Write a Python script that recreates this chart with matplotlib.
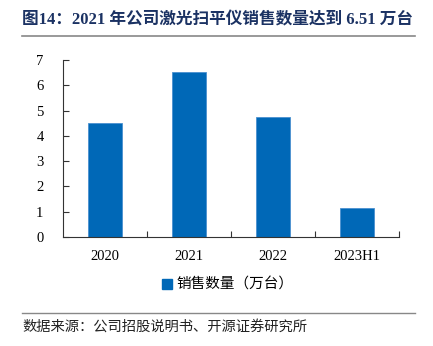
import matplotlib
matplotlib.use("Agg")
import matplotlib.pyplot as plt
from matplotlib.patches import Patch
from matplotlib.lines import Line2D

categories = ["2020", "2021", "2022", "2023H1"]
sales = [4.50, 6.51, 4.75, 1.16]
yticks = [0, 1, 2, 3, 4, 5, 6, 7]

title = "图14：2021 年公司激光扫平仪销售数量达到 6.51 万台"
legend_label = "销售数量（万台）"
source = "数据来源：公司招股说明书、开源证券研究所"

W, H = 433, 346
fig = plt.figure(figsize=(W / 100, H / 100), dpi=100)
ax = fig.add_axes([63 / W, 1 - 237 / H, (399 - 63) / W, (237 - 60) / H])

bar_color = "#0068B7"
x = list(range(len(categories)))
ax.bar(x, sales, width=0.41, color=bar_color, edgecolor="#4A90D0", linewidth=0.6)

ax.set_xlim(-0.5, len(categories) - 0.5)
ax.set_ylim(0, 7)
ax.set_yticks(yticks)
ax.set_yticklabels([str(v) for v in yticks], family="Liberation Serif", fontsize=10.5)
ax.set_xticks(x)
ax.set_xticklabels(categories, family="Liberation Serif", fontsize=10.5)
ax.set_xticks([i + 0.5 for i in x], minor=True)
ax.tick_params(axis="x", which="major", length=0, pad=9)
ax.tick_params(axis="x", which="minor", direction="in", length=4, width=0.8, color="#333333")
ax.tick_params(axis="y", direction="in", length=4, width=0.8, color="#333333", pad=14)
for s in ["top", "right"]:
    ax.spines[s].set_visible(False)
for s in ["left", "bottom"]:
    ax.spines[s].set_linewidth(0.8)
    ax.spines[s].set_color("#333333")

handle = Patch(facecolor=bar_color, edgecolor=bar_color)
fig.legend([handle], [legend_label], loc="center", bbox_to_anchor=(228 / W, 1 - 285 / H),
           frameon=False, prop={"family": "Noto Sans CJK SC", "size": 10.5},
           handlelength=0.65, handleheight=0.65, handletextpad=0.35)

fig.text(22 / W, 1 - 20 / H, title, ha="left", va="center", fontsize=12, fontweight="bold",
         color="#1B3263", family=["Liberation Serif", "Noto Sans CJK SC"])
fig.add_artist(Line2D([22 / W, 415 / W], [1 - 36 / H, 1 - 36 / H], color="#888888", linewidth=1.2))
fig.add_artist(Line2D([22 / W, 415 / W], [1 - 313 / H, 1 - 313 / H], color="#888888", linewidth=1.0))
fig.text(22 / W, 1 - 327 / H, source, ha="left", va="center", fontsize=10.3,
         color="#222222", family=["Noto Sans CJK SC"])

fig.savefig("out.png", dpi=100)
